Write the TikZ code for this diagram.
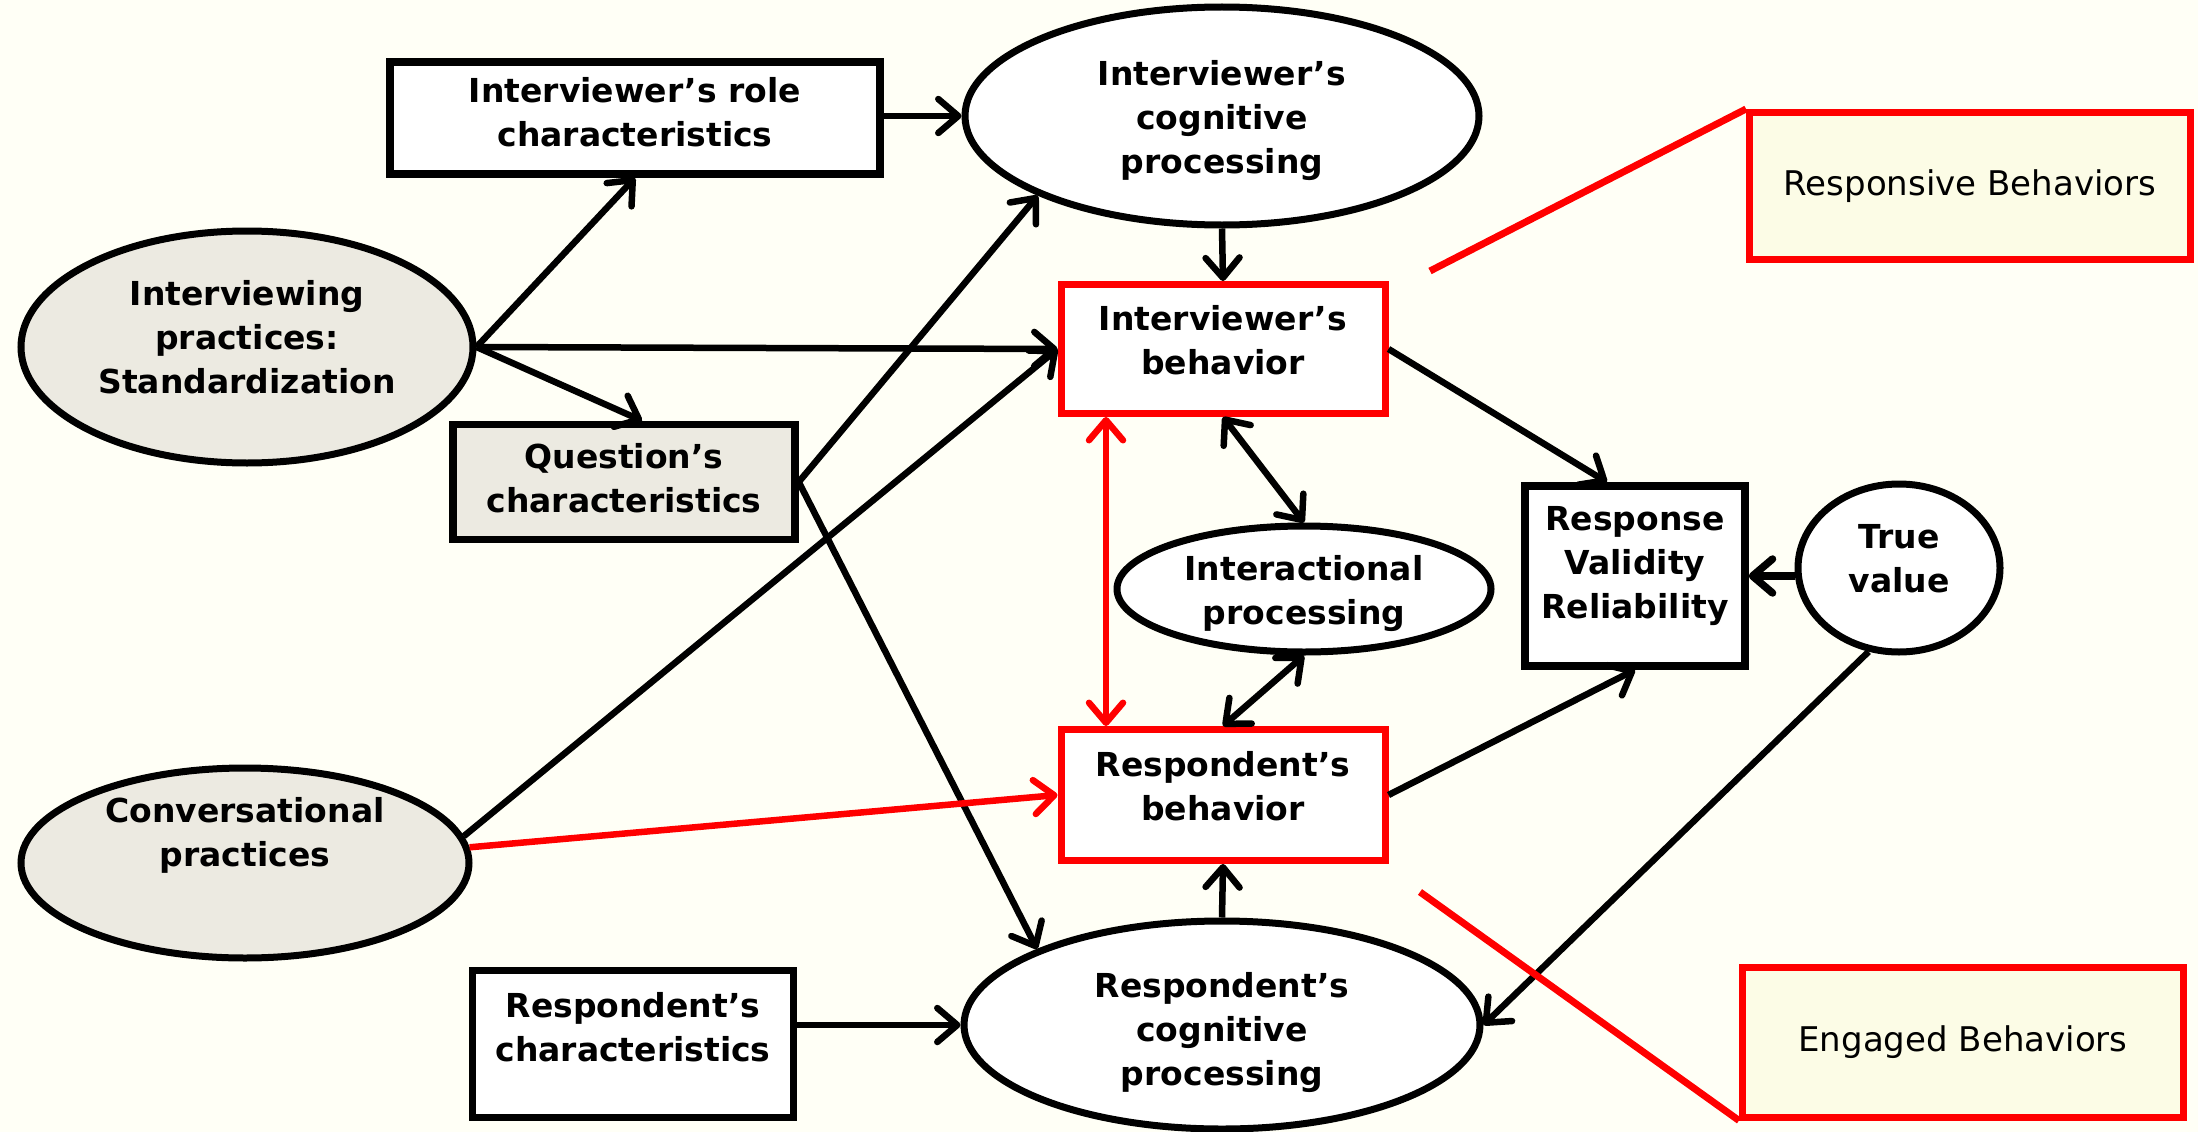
\documentclass[tikz,border=0pt]{standalone}
\usepackage{fontspec}
\setmainfont{DejaVu Sans}
\usetikzlibrary{shapes.geometric,arrows.meta}
\definecolor{bg}{HTML}{FFFFF6}
\definecolor{grayfill}{HTML}{ECEAE1}
\definecolor{notefill}{HTML}{FCFCE6}
\definecolor{myred}{HTML}{FF0000}
\newcommand{\lifted}[2]{\raisebox{#1}[\height][\depth]{\begin{tabular}{@{}c@{}}#2\end{tabular}}}
\begin{document}
\begin{tikzpicture}[x=1pt,y=-1pt,
  lbl/.style={font=\fontsize{33}{44}\selectfont\bfseries, text=black},
  sqbox/.style={lbl, rectangle, draw=black, line width=7.5pt, fill=white, inner sep=0pt},
  redbox/.style={sqbox, draw=myred, line width=7pt},
  oval/.style={lbl, ellipse, draw=black, line width=7pt, fill=white, inner sep=0pt},
  note/.style={rectangle, draw=myred, line width=7pt, fill=notefill, inner sep=0pt, font=\fontsize{34}{40}\selectfont},
  barb/.style={Straight Barb[length=20pt,width=34pt,round]},
  arr/.style={line width=6.5pt, -{Straight Barb[length=20pt,width=34pt,round]}},
  darr/.style={line width=6.5pt, {Straight Barb[length=20pt,width=34pt,round]}-{Straight Barb[length=20pt,width=34pt,round]}},
  redarr/.style={arr, draw=myred},
  reddarr/.style={darr, draw=myred},
  leader/.style={line width=7pt, draw=myred}
]
\useasboundingbox (0,0) rectangle (2198,1132);
\fill[bg] (0,0) rectangle (2198,1132);

% nodes
\node[sqbox, minimum width=490pt, minimum height=112pt] (rolec) at (635,118) {\lifted{2pt}{Interviewer’s role\\characteristics}};
\node[oval, minimum width=514pt, minimum height=218pt] (ic) at (1222,116) {\lifted{-5pt}{Interviewer’s\\cognitive\\processing}};
\node[oval, fill=grayfill, minimum width=452pt, minimum height=232pt] (ip) at (247,347) {\lifted{6pt}{Interviewing\\practices:\\Standardization}};
\node[sqbox, fill=grayfill, minimum width=342pt, minimum height=115pt] (qc) at (624,482) {\lifted{0pt}{Question’s\\characteristics}};
\node[redbox, minimum width=324pt, minimum height=129pt] (ib) at (1223,349) {\lifted{5pt}{Interviewer’s\\behavior}};
\node[oval, minimum width=374pt, minimum height=126pt] (inter) at (1304,589) {\lifted{-5pt}{Interactional\\processing}};
\node[sqbox, minimum width=220pt, minimum height=180pt] (resp) at (1635,576) {\lifted{10pt}{Response\\Validity\\Reliability}};
\node[oval, minimum width=202pt, minimum height=168pt] (tv) at (1899,568) {\lifted{6pt}{True\\value}};
\node[note, minimum width=441pt, minimum height=147pt] (rsp) at (1970,186) {\raisebox{-3pt}{Responsive Behaviors}};
\node[redbox, minimum width=324pt, minimum height=131pt] (rb) at (1223,795) {\lifted{5pt}{Respondent’s\\behavior}};
\node[oval, fill=grayfill, minimum width=448pt, minimum height=190pt] (cp) at (245,863) {\lifted{27pt}{Conversational\\practices}};
\node[sqbox, minimum width=321pt, minimum height=147pt] (rchar) at (633,1044) {\lifted{13pt}{Respondent’s\\characteristics}};
\node[oval, minimum width=516pt, minimum height=208pt] (rc) at (1222,1025) {\lifted{-8pt}{Respondent’s\\cognitive\\processing}};
\node[note, minimum width=441pt, minimum height=150pt] (eng) at (1963,1042) {\raisebox{-4pt}{Engaged Behaviors}};

\coordinate (rspend) at (1430,271);
\coordinate (engend) at (1420,892);

% black connectors
\draw[arr] (rolec.east |- ic.west) -- (ic.west);
\draw[arr] (ip.east) -- (rolec.south);
\draw[arr] (ip.east) -- (ib.west);
\draw[arr] (ip.east) -- ([xshift=18pt]qc.north);
\draw[arr] (qc.east) -- (ic.south west);
\draw[arr] (qc.east) -- (rc.north west);
\draw[arr] (cp.7) -- (ib.west);
\draw[arr] (ic.south) -- (ib.north);
\draw[darr] (ib.south) -- (inter.north);
\draw[darr] (inter.south) -- (rb.north);
\draw[arr] (ib.east) -- ([xshift=-28pt]resp.north);
\draw[arr] (rb.east) -- (resp.south);
\draw[arr, line width=7.5pt] (resp.east -| tv.west) -- (resp.east);
\draw[arr] (tv.250) -- (rc.east);
\draw[arr] (rc.north) -- (rb.south);
\draw[arr] (rc.west -| rchar.east) -- (rc.west);

% red connectors
\draw[redarr] (cp.4) -- (rb.west);
\draw[reddarr] ([xshift=-117pt]ib.south) -- ([xshift=-117pt]rb.north);
\draw[leader] (rspend) -- (rsp.north west);
\draw[leader] (engend) -- (eng.south west);
\end{tikzpicture}
\end{document}
